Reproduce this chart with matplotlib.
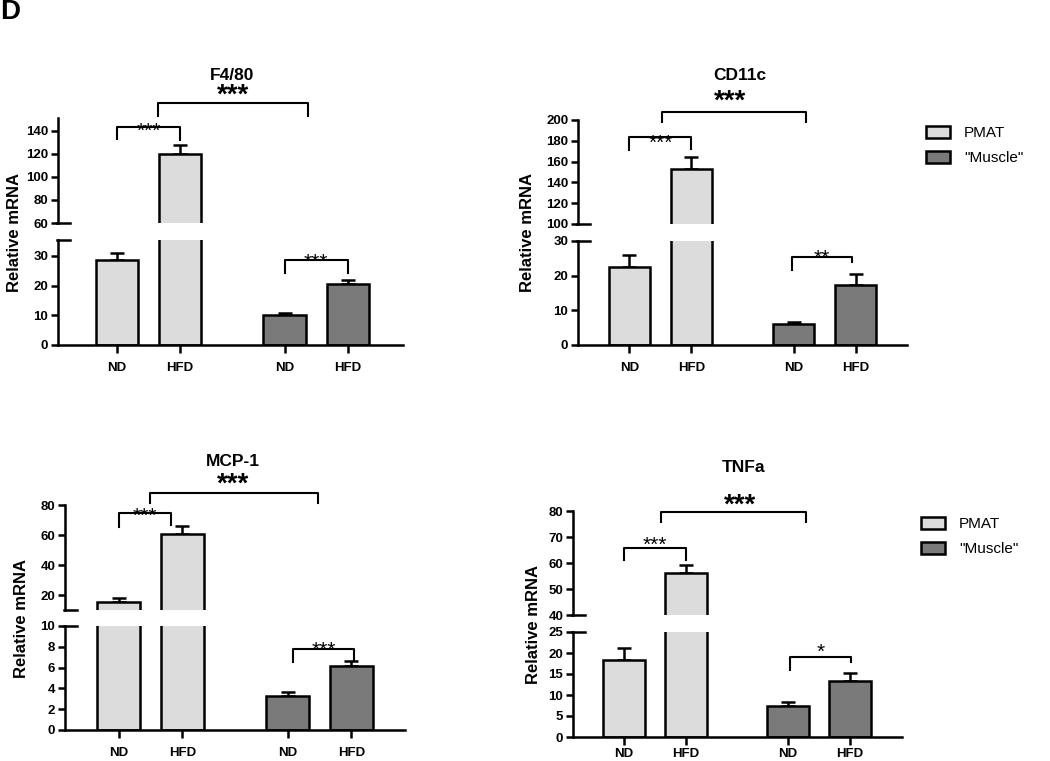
import matplotlib
matplotlib.use('Agg')
import matplotlib.pyplot as plt
from matplotlib.lines import Line2D
from matplotlib.patches import Patch
from matplotlib.transforms import blended_transform_factory

W, H = 1050, 761
plt.rcParams['font.family'] = ['Liberation Sans', 'DejaVu Sans']

# ---------------- data ----------------
groups = ['ND', 'HFD', 'ND', 'HFD']
tissues = ['PMAT', '"Muscle"']
genes = ['F4/80', 'CD11c', 'MCP-1', 'TNFa']

f480_mean = [28.5, 120.0, 10.1, 20.5]
f480_err = [2.5, 8.0, 0.6, 1.2]
cd11c_mean = [22.4, 153.0, 6.2, 17.4]
cd11c_err = [3.5, 11.0, 0.5, 3.1]
mcp1_mean = [15.5, 61.0, 3.3, 6.2]
mcp1_err = [2.5, 5.0, 0.4, 0.4]
tnfa_mean = [18.3, 56.0, 7.5, 13.4]
tnfa_err = [2.8, 3.3, 0.8, 1.8]

sig_pmat = ['***', '***', '***', '***']
sig_muscle = ['***', '**', '***', '*']
sig_between = ['***', '***', '***', '***']

means = [f480_mean, cd11c_mean, mcp1_mean, tnfa_mean]
errs = [f480_err, cd11c_err, mcp1_err, tnfa_err]

light = '#dcdcdc'
dark = '#7a7a7a'
colors = [light, light, dark, dark]
pos = [0, 1, 2.65, 3.65]
bw = 0.67

# ---------------- layout (pixels) ----------------
panels = [
    dict(x=(58, 403), up=(118, 223), lo=(240, 345), uylim=(60, 151), lylim=(0, 35.3),
         uticks=[60, 80, 100, 120, 140], lticks=[0, 10, 20, 30], xlim=(-0.93, 4.52),
         title=(232, 75), bstar=(233, 96), bbr=(0.65, 3.02, 103, 116, 116),
         ibr=(0, 1, 127, 139, 140, 126), mbr=(2.65, 3.65, 260, 273, 273, 257),
         ylab=(15, 233), legend=None, xpad=6),
    dict(x=(578, 907), up=(120, 224), lo=(241, 345), uylim=(100, 200), lylim=(0, 30),
         uticks=[100, 120, 140, 160, 180, 200], lticks=[0, 10, 20, 30], xlim=(-0.83, 4.48),
         title=(740, 75), bstar=(730, 102), bbr=(0.52, 2.85, 112, 122, 122),
         ibr=(0, 1, 137, 150, 149, 138), mbr=(2.62, 3.6, 257, 270, 262, 253),
         ylab=(528, 233), legend=(926, 126), xpad=6),
    dict(x=(65, 405), up=(505, 610), lo=(626, 730), uylim=(10, 80), lylim=(0, 10),
         uticks=[20, 40, 60, 80], lticks=[0, 2, 4, 6, 8, 10], xlim=(-0.84, 4.49),
         title=(233, 462), bstar=(233, 485), bbr=(0.5, 3.13, 493, 503, 503),
         ibr=(0, 0.82, 513, 527, 525, 511), mbr=(2.74, 3.69, 649, 662, 661, 645),
         ylab=(22, 619), legend=None, xpad=6),
    dict(x=(573, 902), up=(511, 615), lo=(632, 737), uylim=(40, 80), lylim=(0, 25),
         uticks=[40, 50, 60, 70, 80], lticks=[0, 5, 10, 15, 20, 25], xlim=(-0.82, 4.49),
         title=(743, 467), bstar=(740, 506), bbr=(0.6, 2.94, 512, 522, 522),
         ibr=(0, 1, 548, 560, 560, 540), mbr=(2.69, 3.66, 657, 670, 662, 647),
         ylab=(533, 624), legend=(921, 517), xpad=2),
]

fig = plt.figure(figsize=(W / 100, H / 100), dpi=100)


def fx(x):
    return x / W


def fy(y):
    return 1 - y / H


lw = 1.8
tickfont = dict(fontsize=9.5, fontweight='bold')

for i, p in enumerate(panels):
    x0, x1 = p['x']
    axes = []
    for (y0, y1), ylim, ticks in [(p['up'], p['uylim'], p['uticks']),
                                  (p['lo'], p['lylim'], p['lticks'])]:
        ax = fig.add_axes([fx(x0), fy(y1), (x1 - x0) / W, (y1 - y0) / H])
        ax.bar(pos, means[i], width=bw, color=colors, edgecolor='black', linewidth=lw, zorder=2)
        ax.errorbar(pos, means[i], yerr=[[0] * 4, errs[i]], fmt='none', ecolor='black',
                    elinewidth=lw, capsize=5, capthick=lw, zorder=1)
        ax.set_ylim(*ylim)
        ax.set_xlim(*p['xlim'])
        ax.set_yticks(ticks)
        ax.set_yticklabels([str(t) for t in ticks], **tickfont)
        for s in ['top', 'right']:
            ax.spines[s].set_visible(False)
        ax.spines['left'].set_linewidth(lw)
        ax.spines['bottom'].set_linewidth(lw)
        ax.tick_params(axis='y', length=5, width=lw, pad=2)
        ax.patch.set_alpha(0)
        axes.append(ax)
    axu, axl = axes
    axu.spines['bottom'].set_visible(False)
    axu.set_xticks([])
    axl.set_xticks(pos)
    axl.set_xticklabels(groups, **tickfont)
    axl.tick_params(axis='x', length=6, width=lw, pad=p['xpad'])

    # break marks
    for yb in (p['up'][1], p['lo'][0]):
        fig.add_artist(Line2D([fx(x0 - 1), fx(x0 + 12)], [fy(yb), fy(yb)],
                              color='black', lw=lw, transform=fig.transFigure))

    # titles and labels
    fig.text(fx(p['title'][0]), fy(p['title'][1]), genes[i], ha='center', va='center',
             fontsize=12.5, fontweight='bold')
    fig.text(fx(p['ylab'][0]), fy(p['ylab'][1]), 'Relative mRNA', ha='center', va='center',
             rotation=90, fontsize=12, fontweight='bold')

    tr = blended_transform_factory(axl.transData, fig.transFigure)
    # big bracket
    bx0, bx1, btop, bl0, bl1 = p['bbr']
    fig.add_artist(Line2D([bx0, bx0, bx1, bx1], [fy(bl0), fy(btop), fy(btop), fy(bl1)],
                          color='black', lw=1.5, transform=tr))
    fig.text(fx(p['bstar'][0]), fy(p['bstar'][1]), sig_between[i], ha='center', va='center',
             fontsize=20, fontweight='bold')
    # inner brackets
    for br, lab in [(p['ibr'], sig_pmat[i]), (p['mbr'], sig_muscle[i])]:
        a, b, top, l0, l1, sy = br
        fig.add_artist(Line2D([a, a, b, b], [fy(l0), fy(top), fy(top), fy(l1)],
                              color='black', lw=1.5, transform=tr))
        fig.text((tr.transform(((a + b) / 2, 0))[0]) / W, fy(sy + 5), lab, ha='center',
                 va='center', fontsize=15, transform=fig.transFigure)

    if p['legend'] is not None:
        handles = [Patch(facecolor=light, edgecolor='black', linewidth=lw),
                   Patch(facecolor=dark, edgecolor='black', linewidth=lw)]
        fig.legend(handles, tissues, loc='upper left',
                   bbox_to_anchor=(fx(p['legend'][0]), fy(p['legend'][1])),
                   bbox_transform=fig.transFigure, frameon=False, fontsize=11,
                   handlelength=1.6, handleheight=0.85, handletextpad=0.9,
                   labelspacing=0.7, borderpad=0, borderaxespad=0)

fig.text(fx(0), fy(12), 'D', ha='left', va='center', fontsize=20, fontweight='bold')

fig.savefig('out.png', dpi=100)
